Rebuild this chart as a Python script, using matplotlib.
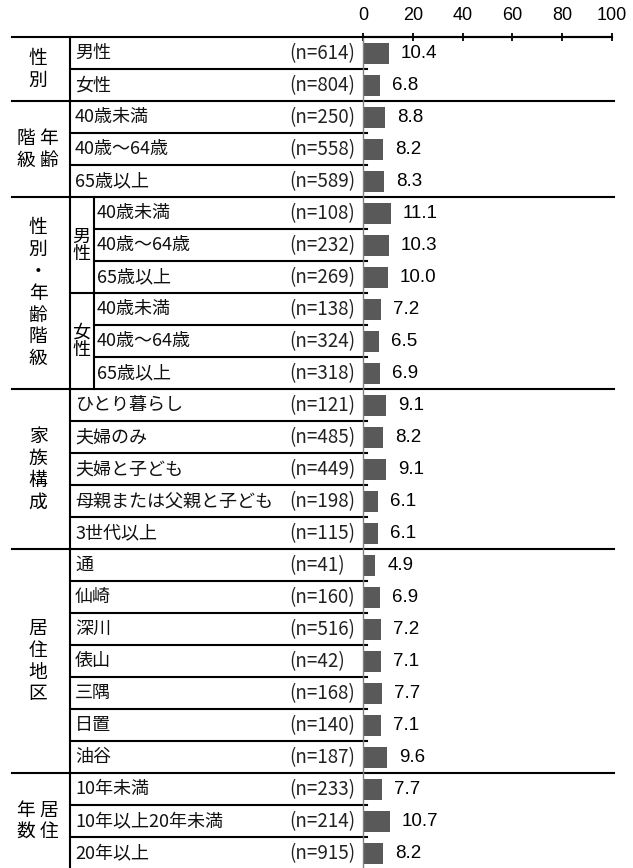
import matplotlib
matplotlib.use('Agg')
import matplotlib.pyplot as plt
from matplotlib import font_manager

# data
groups = ['性\n別', '階 年\n級 齢', '性\n別\n・\n年\n齢\n階\n級', '家\n族\n構\n成', '居\n住\n地\n区', '年 居\n数 住']
group_sizes = [2, 3, 6, 5, 7, 3]
sub_groups = ['男\n性', '女\n性']   # inside the 性別・年齢階級 group
labels = ['男性', '女性',
          '40歳未満', '40歳～64歳', '65歳以上',
          '40歳未満', '40歳～64歳', '65歳以上',
          '40歳未満', '40歳～64歳', '65歳以上',
          'ひとり暮らし', '夫婦のみ', '夫婦と子ども', '母親または父親と子ども', '3世代以上',
          '通', '仙崎', '深川', '俵山', '三隅', '日置', '油谷',
          '10年未満', '10年以上20年未満', '20年以上']
n_counts = [614, 804, 250, 558, 589, 108, 232, 269, 138, 324, 318,
            121, 485, 449, 198, 115, 41, 160, 516, 42, 168, 140, 187,
            233, 214, 915]
values = [10.4, 6.8, 8.8, 8.2, 8.3, 11.1, 10.3, 10.0, 7.2, 6.5, 6.9,
          9.1, 8.2, 9.1, 6.1, 6.1, 4.9, 6.9, 7.2, 7.1, 7.7, 7.1, 9.6,
          7.7, 10.7, 8.2]
xticks = [0, 20, 40, 60, 80, 100]

W, H = 633, 868
TOP = 37.3
ROW_H = 32.0
X_LEFT = 12
X_COL1 = 70
X_COL2 = 93.5
X_AXIS = 363
X_AXIS_END = 612
X_INNER_END = 367

JP = ['Noto Sans CJK JP', 'DejaVu Sans']
names = {f.name for f in font_manager.fontManager.ttflist}
NARROW = 'Liberation Sans Narrow' if 'Liberation Sans Narrow' in names else 'Liberation Sans'

fig = plt.figure(figsize=(W / 100, H / 100), dpi=100)

# table layer in pixel coordinates
bg = fig.add_axes([0, 0, 1, 1])
bg.set_xlim(0, W)
bg.set_ylim(H, 0)
bg.axis('off')

def ry(i):
    return TOP + i * ROW_H

nrows = len(labels)
LW = 1.5

# group lines + group labels
bg.plot([X_LEFT, X_AXIS_END], [ry(0), ry(0)], color='black', lw=LW)
start = 0
for g, size in zip(groups, group_sizes):
    end = start + size
    bg.plot([X_LEFT, X_AXIS_END + 2], [ry(end), ry(end)], color='black', lw=LW)
    bg.text(38, (ry(start) + ry(end)) / 2, g, ha='center', va='center',
            fontsize=13.5, family=JP, linespacing=1.05)
    start = end

# vertical lines
bg.plot([X_COL1, X_COL1], [ry(0), H], color='black', lw=LW)
sg_start = 5
bg.plot([X_COL2, X_COL2], [ry(sg_start), ry(sg_start + 6)], color='black', lw=LW)
for k, sg in enumerate(sub_groups):
    a = sg_start + 3 * k
    bg.text(81.5, (ry(a) + ry(a + 3)) / 2, sg, ha='center', va='center',
            fontsize=13, family=JP, linespacing=0.9)

# inner row lines
start = 0
for gi, size in enumerate(group_sizes):
    for r in range(start + 1, start + size):
        x0 = X_COL2 if (gi == 2 and r != sg_start + 3) else X_COL1
        bg.plot([x0, X_INNER_END], [ry(r), ry(r)], color='black', lw=LW)
    start += size

# row labels
for i, (lab, n) in enumerate(zip(labels, n_counts)):
    yc = ry(i) + ROW_H / 2
    x0 = X_COL2 + 3.5 if sg_start <= i < sg_start + 6 else X_COL1 + 5
    bg.text(x0, yc, lab, ha='left', va='center', fontsize=13, family=JP,
            color='#111111')
    bg.text(289, yc, f'(n={n})', ha='left', va='center', fontsize=13.5,
            family=JP, color='#222222')

# bar chart
ax = fig.add_axes([X_AXIS / W, 1 - (TOP + nrows * ROW_H) / H,
                   (X_AXIS_END - X_AXIS) / W, nrows * ROW_H / H])
ax.patch.set_alpha(0)
ypos = list(range(nrows))
ax.barh(ypos, values, height=0.66, color='#595959')
ax.set_xlim(0, 100)
ax.set_ylim(nrows - 0.5, -0.5)
for y, v in zip(ypos, values):
    ax.annotate(f'{v:.1f}', xy=(v, y), xytext=(12, 0), textcoords='offset pixels',
                ha='left', va='center', fontsize=13.5, family='Liberation Sans')

ax.xaxis.tick_top()
ax.set_xticks(xticks)
ax.set_xticklabels([str(t) for t in xticks], family=NARROW, fontsize=13)
ax.tick_params(axis='x', direction='inout', length=6, width=1.3, pad=6.5)
ax.set_yticks([])
for s in ['right', 'bottom']:
    ax.spines[s].set_visible(False)
ax.spines['top'].set_linewidth(LW)
ax.spines['left'].set_color('#808080')
ax.spines['left'].set_linewidth(1)

fig.savefig('out.png', dpi=100)
